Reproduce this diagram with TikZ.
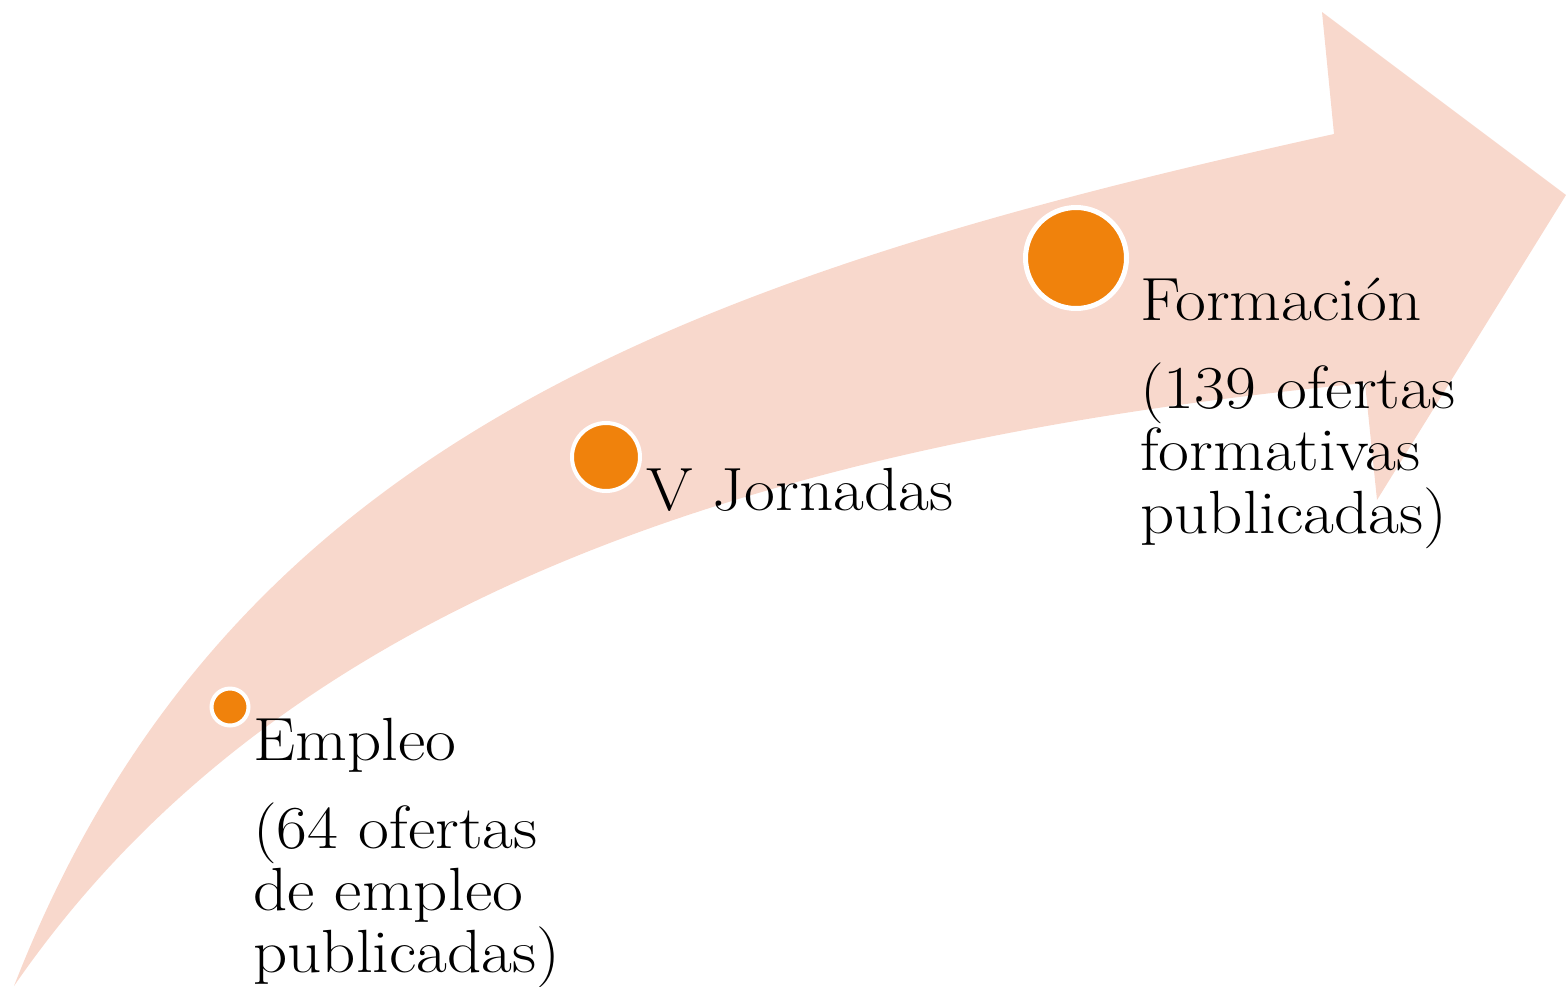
\documentclass[tikz,border=0pt]{standalone}
\usepackage{fontspec}
\setmainfont{Latin Modern Roman}[FakeStretch=1.10]
\definecolor{peach}{RGB}{248,216,204}
\definecolor{dotorange}{RGB}{240,130,12}
\tikzset{
  dotmark/.style={circle, fill=dotorange, draw=white, line width=#1, inner sep=0pt},
  lbl/.style={anchor=base west, inner sep=0pt, font=\fontsize{61}{62}\selectfont}
}
\begin{document}
\begin{tikzpicture}[x=1pt,y=-1pt]
\useasboundingbox (0,0) rectangle (1566,986);
% curved arrow
\coordinate (tail) at (14,986);
\coordinate (nu) at (1334,134);
\coordinate (bt) at (1322,12);
\coordinate (tip) at (1566,195);
\coordinate (bb) at (1377,500);
\coordinate (nl) at (1365,383);
\fill[peach] (tail) .. controls (225,445) and (680,278) .. (nu)
  -- (bt) -- (tip) -- (bb) -- (nl)
  .. controls (760,442) and (280,600) .. (tail) -- cycle;
% dots
\path (230,707) node[dotmark=4pt, minimum size=37pt] (d1) {};
\path (606,457) node[dotmark=4pt, minimum size=68pt] (d2) {};
\path (1076,258) node[dotmark=5pt, minimum size=101pt] (d3) {};
% labels
\node[lbl] (e1) at (253,760) {Empleo};
\node[lbl] (e2) at (253,848) {(64 ofertas};
\node[lbl] (e3) at (253,910) {de empleo};
\node[lbl] (e4) at (253,972) {publicadas)};
\node[lbl] (v1) at (646,510) {V Jornadas};
\node[lbl] (f1) at (1140,320) {Formación};
\node[lbl] (f2) at (1140,408) {(139 ofertas};
\node[lbl] (f3) at (1140,470) {formativas};
\node[lbl] (f4) at (1140,533) {publicadas)};
\end{tikzpicture}
\end{document}
